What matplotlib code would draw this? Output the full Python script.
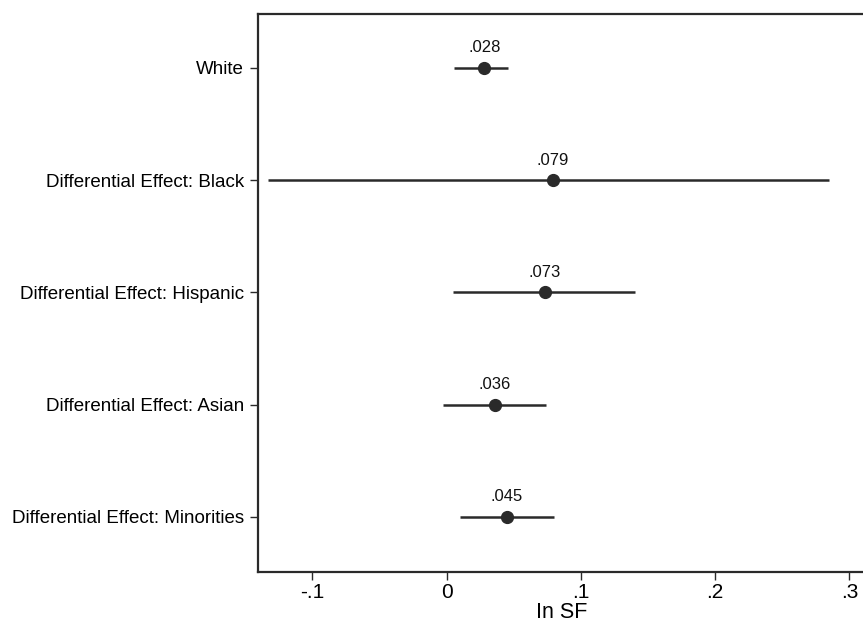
import matplotlib
matplotlib.use("Agg")
import matplotlib.pyplot as plt

categories = ["White", "Differential Effect: Black", "Differential Effect: Hispanic",
              "Differential Effect: Asian", "Differential Effect: Minorities"]
estimates = [0.028, 0.079, 0.073, 0.036, 0.045]
ci_low = [0.0055, -0.133, 0.005, -0.003, 0.010]
ci_high = [0.046, 0.285, 0.140, 0.074, 0.080]
value_labels = [".028", ".079", ".073", ".036", ".045"]
xticks = [-0.1, 0, 0.1, 0.2, 0.3]
xtick_labels = ["-.1", "0", ".1", ".2", ".3"]

plt.rcParams['font.family'] = ['Liberation Sans', 'DejaVu Sans']

fig = plt.figure(figsize=(8.63, 6.29), dpi=100)
ax = fig.add_axes([0.299, 0.0906, 0.704, 0.8874])

ypos = list(range(len(categories)))
col = "#2a2a2a"
for y, e, lo, hi, lab in zip(ypos, estimates, ci_low, ci_high, value_labels):
    ax.plot([lo, hi], [y, y], color=col, lw=1.8, solid_capstyle='butt', zorder=2)
    ax.plot([e], [y], 'o', color=col, ms=8.5, zorder=3)
    ax.annotate(lab, (e, y), xytext=(0, 9), textcoords='offset points',
                ha='center', va='bottom', fontsize=12, color='#111111')

ax.set_ylim(4.49, -0.48)
ax.set_xlim(-0.1405, 0.312)
ax.set_yticks(ypos)
ax.set_yticklabels(categories, fontsize=13.5)
ax.set_xticks(xticks)
ax.set_xticklabels(xtick_labels, fontsize=15)
ax.set_xlabel("In SF", fontsize=15.5, labelpad=0)
ax.tick_params(axis='y', length=6, width=1, pad=4, color=col)
ax.tick_params(axis='x', length=6, width=1, pad=2, color=col)
for s in ax.spines.values():
    s.set_color(col)
    s.set_linewidth(1.6)

fig.savefig("out.png", dpi=100)
